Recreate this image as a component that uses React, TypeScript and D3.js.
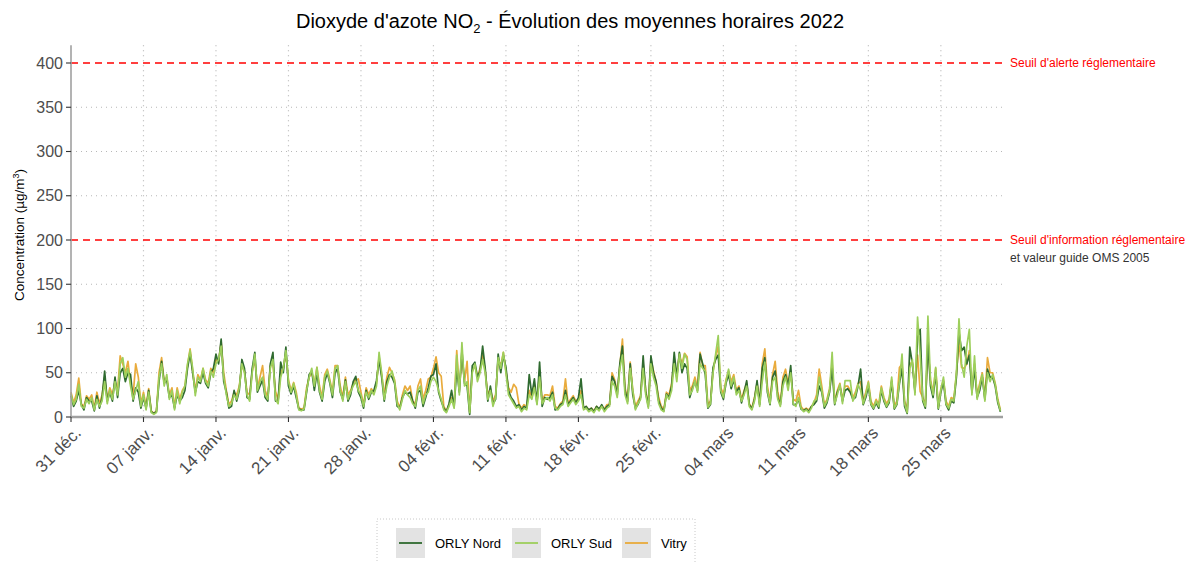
import React from 'react';
import * as d3 from 'd3';

// Hourly-average NO2 concentrations, sampled every 6 hours from 31 Dec 2021 00:00 (UTC)
const START_DATE = '2021-12-31T00:00:00Z';
const END_DATE = '2022-03-31T00:00:00Z';
const STEP_HOURS = 6;

const ORLY_NORD = [
  24,12,18,30, 14,8,22,18, 18,7,24,10, 22,52,18,28, 18,45,22,50, 55,40,50,48, 18,33,28,10, 22,10,30,6,
  4,6,40,63, 38,42,22,25, 10,25,18,22, 30,55,72,50, 28,40,38,50, 38,33,50,55, 71,60,88,40, 28,10,12,30,
  18,30,65,55, 22,20,55,73, 28,35,42,22, 18,60,73,18, 18,62,50,79, 35,26,35,22, 9,8,8,28, 48,52,30,50,
  28,18,40,50, 38,22,50,55, 28,20,42,18, 25,40,46,28, 22,10,30,20, 28,30,41,65, 45,18,40,48, 45,38,12,10,
  22,28,26,28, 18,10,28,30, 12,22,33,46, 48,60,28,18, 10,6,15,30, 12,55,28,75, 38,35,3,58, 62,45,52,80,
  55,18,35,15, 20,71,50,70, 56,30,22,18, 12,14,8,12, 10,48,25,43, 15,62,12,22, 20,22,28,8, 9,14,16,30,
  14,18,22,16, 22,43,10,12, 8,10,6,12, 9,14,8,12, 14,46,40,25, 60,80,30,18, 60,25,10,14, 22,69,28,12,
  69,50,40,18, 10,7,26,22, 35,73,45,73, 50,60,55,22, 32,40,30,71, 60,48,10,14, 56,65,70,28, 20,38,48,32,
  42,28,33,16, 28,41,14,9, 20,41,14,55, 67,28,14,45, 52,22,14,40, 48,35,58,14, 14,20,9,7, 9,6,12,14,
  18,35,28,10, 16,28,55,14, 28,35,18,30, 32,28,20,22, 35,54,14,22, 35,14,9,16, 10,30,18,11, 16,40,9,14,
  38,55,12,4, 79,60,28,90, 99,18,10,85, 35,22,50,9, 28,40,14,8, 18,16,45,96, 75,79,60,70, 28,55,22,30,
  45,20,54,45, 45,35,16,6,
];

const ORLY_SUD = [
  26,14,20,37, 12,10,20,15, 22,8,20,12, 18,40,15,30, 20,40,25,60, 67,45,55,35, 20,30,40,12, 25,8,28,5,
  3,5,45,60, 35,48,20,30, 8,30,15,28, 35,60,75,55, 24,45,40,55, 40,35,52,45, 60,65,80,45, 25,12,15,25,
  20,33,60,50, 25,18,50,71, 30,40,45,25, 20,55,65,20, 15,45,55,75, 40,28,38,25, 8,7,9,30, 45,55,35,56,
  30,20,45,52, 40,25,55,58, 30,18,40,20, 28,35,40,30, 25,12,28,22, 30,25,35,73, 50,20,35,45, 52,40,15,8,
  20,30,25,22, 15,12,30,35, 15,25,28,40, 45,40,30,20, 8,5,12,20, 10,70,25,84, 35,40,5,50, 60,40,50,65,
  50,20,30,12, 22,67,55,73, 50,25,20,15, 10,12,6,10, 8,25,20,33, 14,45,15,20, 22,18,25,10, 8,12,14,25,
  12,16,20,14, 18,25,8,10, 6,8,5,10, 7,12,6,10, 12,40,35,22, 55,70,25,15, 55,30,8,15, 20,55,25,10,
  60,45,35,15, 8,6,25,20, 30,60,40,71, 55,71,65,25, 30,41,28,60, 55,52,11,15, 50,71,92,30, 22,40,54,35,
  45,25,30,18, 25,35,12,8, 18,35,12,40, 62,30,15,40, 45,20,12,35, 45,30,50,15, 12,22,10,6, 8,5,10,18,
  20,45,30,12, 18,30,73,15, 25,37,15,41, 41,41,18,25, 37,30,15,25, 39,15,10,18, 12,33,20,12, 18,45,10,15,
  40,71,15,5, 55,65,25,113, 70,20,12,114, 40,25,56,10, 30,45,15,10, 20,18,50,111, 60,45,80,99, 25,69,20,35,
  48,18,50,40, 48,37,18,7,
];

const VITRY = [
  28,16,25,44, 15,12,24,20, 25,10,28,15, 25,45,20,33, 25,40,30,69, 60,50,63,38, 25,60,45,15, 28,12,32,7,
  4,7,50,67, 40,45,25,33, 12,33,20,30, 35,58,77,52, 30,48,42,55, 42,38,55,50, 65,62,85,50, 30,14,18,28,
  25,35,58,52, 28,25,52,65, 32,45,58,30, 22,58,60,29, 20,50,55,72, 42,30,39,28, 10,9,10,33, 45,50,38,56,
  35,22,48,54, 42,28,58,58, 35,22,45,25, 30,38,42,43, 28,14,33,25, 32,28,38,68, 48,25,45,56, 50,42,18,10,
  25,35,30,35, 18,15,35,43, 20,30,43,45, 55,68,50,46, 12,7,14,22, 14,75,30,70, 40,63,6,52, 58,45,55,70,
  52,25,32,18, 25,65,58,73, 52,33,28,37, 33,15,10,14, 12,30,22,35, 18,50,18,25, 25,24,35,12, 10,15,18,43,
  15,20,24,18, 20,30,10,12, 8,10,7,12, 9,12,9,14, 14,50,42,28, 58,88,33,20, 62,30,12,18, 24,60,30,14,
  65,52,40,22, 12,9,28,25, 38,65,48,71, 60,72,68,30, 35,45,33,73, 58,58,14,18, 52,68,80,33, 26,42,52,40,
  48,30,35,20, 30,38,15,10, 22,38,16,60, 77,35,18,48, 63,28,16,45, 54,38,52,20, 18,30,12,8, 10,8,12,16,
  25,54,35,14, 20,32,60,18, 30,38,20,35, 35,30,22,28, 38,40,18,28, 40,18,12,20, 14,35,22,15, 20,42,12,18,
  56,60,18,8, 60,62,30,70, 29,22,14,80, 42,28,55,12, 32,42,18,12, 22,20,48,85, 56,55,60,75, 30,60,25,38,
  50,22,67,50, 50,38,20,8,
];

const SERIES_NAMES = ['ORLY Nord', 'ORLY Sud', 'Vitry'];
const SERIES_COLORS = ['#2f6a2f', '#9dcf5c', '#e9ab3c'];

const TICK_DATES = [
  '2021-12-31', '2022-01-07', '2022-01-14', '2022-01-21', '2022-01-28', '2022-02-04', '2022-02-11',
  '2022-02-18', '2022-02-25', '2022-03-04', '2022-03-11', '2022-03-18', '2022-03-25',
];
const TICK_LABELS = [
  '31 déc.', '07 janv.', '14 janv.', '21 janv.', '28 janv.', '04 févr.', '11 févr.',
  '18 févr.', '25 févr.', '04 mars', '11 mars', '18 mars', '25 mars',
];
const Y_TICKS = [0, 50, 100, 150, 200, 250, 300, 350, 400];
const THRESHOLD_VALUES = [400, 200];
const THRESHOLD_LABELS = ["Seuil d'alerte réglementaire", "Seuil d'information réglementaire"];
const THRESHOLD_NOTE = 'et valeur guide OMS 2005';

const FONT = "'Liberation Sans', Arial, Helvetica, sans-serif";

export default function App() {
  const W = 1192;
  const H = 562;
  const left = 71;
  const right = 1003;
  const top = 45.3;
  const bottom = 417;

  const x = d3.scaleUtc().domain([new Date(START_DATE), new Date(END_DATE)]).range([left, right]);
  const y = d3.scaleLinear().domain([0, 420]).range([bottom, top]);
  const t0 = new Date(START_DATE).getTime();
  const timeAt = (i: number) => new Date(t0 + i * STEP_HOURS * 3600 * 1000);

  const line = d3
    .line<number>()
    .x((_, i) => x(timeAt(i)))
    .y((v) => y(v));

  const seriesData = [ORLY_NORD, ORLY_SUD, VITRY];
  const drawOrder = [2, 0, 1];

  const legendKeyX = [396, 512, 622];

  return (
    <div style={{ position: 'absolute', left: 0, top: 0 }}>
      <svg width={W} height={H} style={{ display: 'block', background: '#fff' }} fontFamily={FONT}>
        {/* grid */}
        {Y_TICKS.filter((v) => v > 0 && !THRESHOLD_VALUES.includes(v)).map((v) => (
          <line key={'hg' + v} x1={left} x2={right} y1={y(v)} y2={y(v)} stroke="#b8b8b8" strokeWidth={1.2} strokeDasharray="1,4" />
        ))}
        {TICK_DATES.slice(1).map((d) => (
          <line key={'vg' + d} x1={x(new Date(d))} x2={x(new Date(d))} y1={top} y2={bottom} stroke="#b8b8b8" strokeWidth={1.2} strokeDasharray="1,4" />
        ))}

        {/* threshold lines */}
        {THRESHOLD_VALUES.map((v) => (
          <line key={'th' + v} x1={left} x2={1006} y1={y(v)} y2={y(v)} stroke="#ff0000" strokeWidth={1.5} strokeDasharray="7,5" />
        ))}
        {THRESHOLD_VALUES.map((v, i) => (
          <text key={'tl' + v} x={1010} y={y(v) + 4} fontSize={12} fill="#ff0000">
            {THRESHOLD_LABELS[i]}
          </text>
        ))}
        <text x={1010} y={y(200) + 22} fontSize={12} fill="#333">
          {THRESHOLD_NOTE}
        </text>

        {/* data lines */}
        {drawOrder.map((si) => (
          <path key={'s' + si} d={line(seriesData[si]) || ''} fill="none" stroke={SERIES_COLORS[si]} strokeWidth={1.7} strokeLinejoin="round" />
        ))}

        {/* axes */}
        <line x1={left} x2={left} y1={top} y2={bottom} stroke="#a0a0a0" strokeWidth={1.6} />
        <line x1={left} x2={right} y1={bottom} y2={bottom} stroke="#a0a0a0" strokeWidth={2.4} />
        {Y_TICKS.map((v) => (
          <g key={'yt' + v}>
            <line x1={left - 5} x2={left} y1={y(v)} y2={y(v)} stroke="#333" strokeWidth={1.1} />
            <text x={left - 8} y={y(v)} dy="0.35em" textAnchor="end" fontSize={16} fill="#4d4d4d">
              {v}
            </text>
          </g>
        ))}
        {TICK_DATES.map((d, i) => {
          const tx = x(new Date(d));
          return (
            <g key={'xt' + d}>
              <line x1={tx} x2={tx} y1={bottom} y2={bottom + 5} stroke="#333" strokeWidth={1.1} />
              <text transform={`translate(${tx + 11},${bottom + 17}) rotate(-45)`} textAnchor="end" fontSize={17} fill="#4d4d4d">
                {TICK_LABELS[i]}
              </text>
            </g>
          );
        })}

        {/* y label */}
        <text transform={`translate(24,235) rotate(-90)`} textAnchor="middle" fontSize={13.5} fill="#000">
          Concentration (µg/m<tspan dy={-5} fontSize={9}>3</tspan>
          <tspan dy={5}>)</tspan>
        </text>

        {/* title */}
        <text x={570} y={28} textAnchor="middle" fontSize={20} fill="#000">
          Dioxyde d'azote NO<tspan dy={5} fontSize={13}>2</tspan>
          <tspan dy={-5}> - Évolution des moyennes horaires 2022</tspan>
        </text>

        {/* legend */}
        <rect x={377} y={519} width={318} height={60} fill="#fff" stroke="#c8c8c8" strokeDasharray="1,2" />
        {SERIES_NAMES.map((name, i) => (
          <g key={'lg' + name}>
            <rect x={legendKeyX[i]} y={528} width={29} height={30} fill="#e3e3e3" />
            <line x1={legendKeyX[i] + 3} x2={legendKeyX[i] + 26} y1={543} y2={543} stroke={SERIES_COLORS[i]} strokeWidth={1.8} />
            <text x={legendKeyX[i] + 39} y={543} dy="0.35em" fontSize={13} fill="#000">
              {name}
            </text>
          </g>
        ))}
      </svg>
    </div>
  );
}
